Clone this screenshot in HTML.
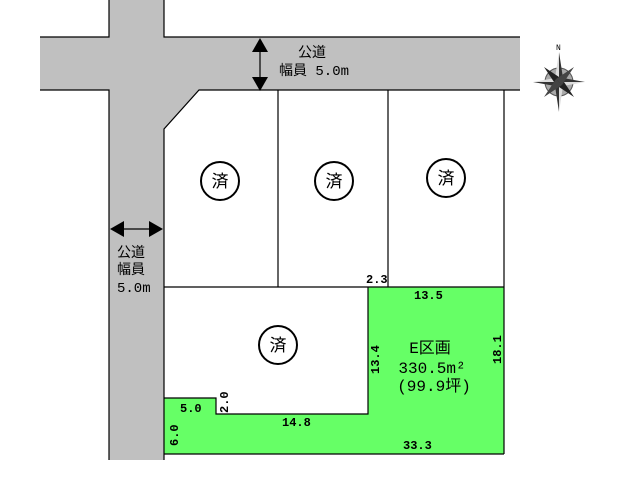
<!DOCTYPE html>
<html><head><meta charset="utf-8"><style>
body{margin:0;background:#fff;}
svg{display:block;font-family:"Liberation Mono","Noto Sans CJK JP",monospace;}
</style></head><body>
<svg width="640" height="480" viewBox="0 0 640 480" xmlns="http://www.w3.org/2000/svg">
<rect width="640" height="480" fill="#fff"/>
<polygon points="368,287 504,287 504,454 163,454 163,398 216,398 216,414 368,414" fill="#66ff66"/>
<polygon points="40,37 109,37 109,0 164,0 164,37 520,37 520,90 199,90 164,129 164,460 109,460 109,90 40,90" fill="#c0c0c0"/>
<g stroke="#000" stroke-width="1.2" fill="none">
<polyline points="40,37 109,37 109,0"/>
<polyline points="164,0 164,37 520,37"/>
<polyline points="40,90 109,90 109,460"/>
<polyline points="520,90 199,90 164,129 164,460"/>
<line x1="278" y1="90" x2="278" y2="287"/>
<line x1="388" y1="90" x2="388" y2="287"/>
<line x1="504" y1="90" x2="504" y2="454"/>
<line x1="164" y1="287" x2="504" y2="287"/>
<polyline points="368,287 368,414 216,414 216,398 164,398"/>
<line x1="164" y1="454" x2="504" y2="454"/>
<circle cx="220" cy="181" r="19" stroke-width="2"/>
<circle cx="334" cy="181" r="19" stroke-width="2"/>
<circle cx="446" cy="178" r="19" stroke-width="2"/>
<circle cx="278" cy="345" r="19" stroke-width="2"/>
<line x1="260" y1="44" x2="260" y2="86"/>
<line x1="116" y1="229" x2="158" y2="229"/>
</g>
<g fill="#000">
<polygon points="260,38 252,52 268,52"/>
<polygon points="260,91 252,77 268,77"/>
<polygon points="110,229 124,221 124,237"/>
<polygon points="163,229 149,221 149,237"/>
</g>
<g font-size="17" text-anchor="middle" fill="#000">
<text x="220" y="187">済</text><text x="334" y="187">済</text>
<text x="446" y="184">済</text><text x="278" y="351">済</text>
</g>
<g font-size="14" fill="#000">
<text x="298" y="57">公道</text>
<text x="279" y="75">幅員 5.0m</text>
<text x="117" y="257">公道</text>
<text x="117" y="274">幅員</text>
<text x="117" y="292">5.0m</text>
</g>
<g font-size="12" font-weight="bold" fill="#000" font-family="Liberation Mono,monospace">
<text x="366" y="283">2.3</text>
<text x="414" y="299">13.5</text>
<text x="180" y="412">5.0</text>
<text x="282" y="426">14.8</text>
<text x="403" y="449">33.3</text>
<text transform="translate(379,374) rotate(-90)">13.4</text>
<text transform="translate(501,364) rotate(-90)">18.1</text>
<text transform="translate(228,413) rotate(-90)">2.0</text>
<text transform="translate(178,446) rotate(-90)">6.0</text>
</g>
<g font-size="16" fill="#000" text-anchor="middle">
<text x="430" y="353">E区画</text>
<text x="432" y="373">330.5m²</text>
<text x="434" y="391">(99.9坪)</text>
</g>
<g transform="translate(559,82)">
<circle r="14" fill="#aaa" stroke="#555"/>
<polygon points="0,-30 4,-4 0,0" fill="#333"/><polygon points="0,-30 -4,-4 0,0" fill="#ddd"/>
<polygon points="0,30 4,4 0,0" fill="#ddd"/><polygon points="0,30 -4,4 0,0" fill="#333"/>
<polygon points="-26,0 -4,-4 0,0" fill="#ddd"/><polygon points="-26,0 -4,4 0,0" fill="#333"/>
<polygon points="26,0 4,-4 0,0" fill="#333"/><polygon points="26,0 4,4 0,0" fill="#ddd"/>
<polygon points="-15,-15 -3,3 3,-3" fill="#222"/><polygon points="15,15 -3,3 3,-3" fill="#222"/>
<polygon points="15,-15 -3,-3 3,3" fill="#444"/><polygon points="-15,15 -3,-3 3,3" fill="#444"/>
<text x="-3" y="-32" font-size="8" fill="#000">N</text>
</g>
</svg>
</body></html>
